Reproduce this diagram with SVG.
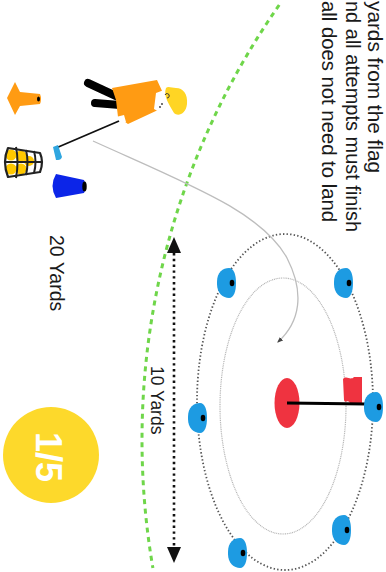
<svg xmlns="http://www.w3.org/2000/svg" xmlns:xlink="http://www.w3.org/1999/xlink" width="386" height="572" viewBox="0 0 386 572">
  <style>
    .txt { font-family: "Liberation Sans", Arial, sans-serif; fill: #1a1a1a; }
    .cone-blue { fill: #1d9be2; }
    .ink { fill: #000; }
    .ring-outer { fill: none; stroke: #555; stroke-width: 1.8; stroke-dasharray: 1.4 2.2; }
    .ring-inner { fill: none; stroke: #b5b5b5; stroke-width: 1.2; stroke-dasharray: 1 0.8; }
    .boundary { fill: none; stroke: #6fd64a; stroke-width: 3; stroke-dasharray: 5 4.5; }
    .dim { fill: none; stroke: #111; stroke-width: 2.6; stroke-dasharray: 2.4 3.4; }
    .shot { fill: none; stroke: #bdbdbd; stroke-width: 1.3; }
  </style>
  <defs>
    <g id="cone">
      <path class="cone-blue" d="M-9,-1 C-9,-11 -3,-15 3,-15 C8,-15 10,-8 10,0 C10,8 8,15 3,15 C-3,15 -9,10 -9,1 Z"/>
      <ellipse class="ink" cx="6" cy="0" rx="2.3" ry="3.3"/>
    </g>
    <marker id="shot-head" viewBox="0 0 10 10" refX="8" refY="5" markerWidth="6" markerHeight="6" orient="auto" markerUnits="userSpaceOnUse">
      <path d="M0,1 L10,5 L0,9 Z" fill="#444"/>
    </marker>
  </defs>

  <rect width="386" height="572" fill="#fff"/>

  <!-- instructions, set sideways -->
  <g id="instructions" class="txt" font-size="20">
    <text transform="translate(368,1) rotate(90)" font-size="19.5" textLength="172" lengthAdjust="spacingAndGlyphs">yards from the flag</text>
    <text transform="translate(346,1) rotate(90)" textLength="231" lengthAdjust="spacingAndGlyphs">nd all attempts must finish</text>
    <text transform="translate(322,1) rotate(90)" textLength="221" lengthAdjust="spacingAndGlyphs">all does not need to land</text>
  </g>

  <!-- step badge -->
  <g id="badge">
    <circle cx="51" cy="455" r="48" fill="#fdd92b"/>
    <text transform="translate(36,457) rotate(90)" text-anchor="middle" font-family="Liberation Sans, Arial, sans-serif" font-weight="bold" font-size="36" fill="#fff">1/5</text>
  </g>

  <g id="label-20" class="txt">
    <text transform="translate(50,235) rotate(90)" font-size="19.5">20 Yards</text>
  </g>

  <g id="label-10" class="txt">
    <text transform="translate(151,366) rotate(90)" font-size="17.5">10 Yards</text>
  </g>

  <!-- target rings -->
  <g id="rings">
    <ellipse class="ring-outer" cx="285" cy="402" rx="88" ry="168"/>
    <ellipse class="ring-inner" cx="283" cy="406" rx="63" ry="128"/>
  </g>

  <!-- hole and flag -->
  <g id="flag">
    <ellipse cx="287" cy="403" rx="12.5" ry="25" fill="#ef3340"/>
    <path d="M343,379 C347,375 350,381 354,377 L362,377 L362,403 L350,403 C347,399 345,404 344,400 Z" fill="#ef3340"/>
    <line x1="287" y1="403" x2="366" y2="404" stroke="#000" stroke-width="3"/>
  </g>

  <!-- cones around the ring -->
  <g id="cones">
    <use xlink:href="#cone" x="226" y="283"/>
    <use xlink:href="#cone" x="343" y="283"/>
    <use xlink:href="#cone" x="197" y="418"/>
    <use xlink:href="#cone" x="373" y="407"/>
    <use xlink:href="#cone" x="341" y="530"/>
    <use xlink:href="#cone" x="237" y="553"/>
  </g>

  <!-- orange marker cone -->
  <g id="orange-cone">
    <path d="M15,82 L20,92 L40,94 Q42,99 40,104 L20,106 L15,115 L7,98 Z" fill="#ff9b13"/>
    <ellipse cx="38.5" cy="99" rx="1.5" ry="2.6" fill="#000"/>
  </g>

  <!-- ball basket -->
  <g id="basket">
    <circle cx="11" cy="155" r="5.5" fill="#ffc800"/>
    <circle cx="11" cy="169" r="5.5" fill="#ffc800"/>
    <circle cx="21" cy="156" r="5.5" fill="#ffc800"/>
    <circle cx="21" cy="169" r="5.5" fill="#ffc800"/>
    <circle cx="29" cy="161" r="5" fill="#ffc800"/>
    <path d="M8,148 L40,153 Q44,162 40,172 L8,177 Q2,162 8,148 Z" fill="none" stroke="#222" stroke-width="2.2" stroke-linejoin="round"/>
    <path d="M16,147 Q19,162 16,178 M26,150 Q29,162 26,175 M34,151 Q37,162 34,173" fill="none" stroke="#222" stroke-width="2"/>
    <line x1="4" y1="162" x2="43" y2="162" stroke="#222" stroke-width="2"/>
  </g>

  <!-- dark blue cone -->
  <g id="blue-cone">
    <path d="M56,174 L84,180 Q87,186 84,193 L56,198 Q49,186 56,174 Z" fill="#0c25e8"/>
    <ellipse cx="84.5" cy="186.5" rx="2.2" ry="5" fill="#000"/>
  </g>

  <!-- golfer -->
  <g id="golfer">
    <line x1="88" y1="83" x2="116" y2="96" stroke="#000" stroke-width="8" stroke-linecap="round"/>
    <line x1="95" y1="103" x2="120" y2="105" stroke="#000" stroke-width="8" stroke-linecap="round"/>
    <path d="M112,88 L157,80 L163,93 L158,110 L128,124 L118,117 L116,100 Z" fill="#ff9b13"/>
    <path d="M156,93 L164,90 L167,104 L161,113 L154,109 Z" fill="#fff"/>
    <path d="M166,88 C163,96 169,104 174,113 C178,117 186,114 187,104 C188,94 183,88 176,88 C172,88 168,86 166,88 Z" fill="#ffd524"/>
    <path d="M165,95 a2.2,2.2 0 1 1 2,3" fill="none" stroke="#333" stroke-width="1"/>
    <circle cx="162" cy="104" r="0.9" fill="#333"/>
    <circle cx="160" cy="107" r="0.9" fill="#333"/>
    <path d="M116,117 L124,115 L126,122 L119,124 Z" fill="#fff"/>
    <line x1="119" y1="121" x2="56" y2="148" stroke="#111" stroke-width="1.8"/>
    <path d="M53,147 L58,145 L62,157 Q61,160 58,160 L56,160 Z" fill="#2fa6e0"/>
  </g>

  <!-- connectors -->
  <g id="connectors">
    <path class="boundary" d="M279.2,5 A758,758 0 0,0 152.9,568"/>
    <path class="shot" d="M93,141 C190,185 262,212 287,258 C305,293 300,322 278,342" marker-end="url(#shot-head)"/>
    <line class="dim" x1="174" y1="253" x2="174" y2="547"/>
    <path d="M174,237 L181,253 L167,253 Z" fill="#111"/>
    <path d="M174,563 L181,547 L167,547 Z" fill="#111"/>
  </g>
</svg>
